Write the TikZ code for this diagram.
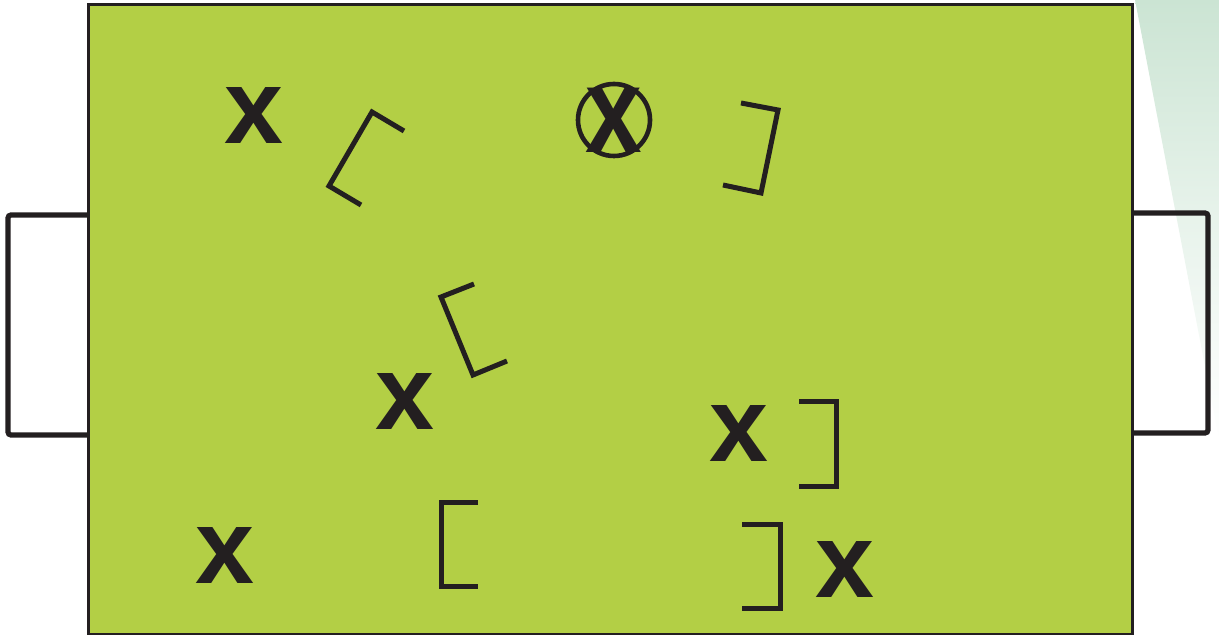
\documentclass[tikz,border=0pt]{standalone}
\usepackage{fontspec}
\setmainfont{Liberation Sans}
\definecolor{pitch}{HTML}{B3CF45}
\definecolor{ink}{HTML}{231F20}
\definecolor{paleteal}{RGB}{203,228,211}
\tikzset{
  player/.style={font=\bfseries\fontsize{53}{53}\selectfont, text=ink, inner sep=0pt},
  bracket/.style={draw=ink, line width=2.5pt},
  goalline/.style={draw=ink, line width=2.6pt, rounded corners=1.5pt}
}
\begin{document}
\begin{tikzpicture}[x=0.5pt, y=-0.5pt]
    \useasboundingbox (0,0) rectangle (1219,635);
    % faded corner behind the pitch
    \shade[top color=paleteal, bottom color=white, middle color=paleteal!45] (1135,0) -- (1219,0) -- (1219,440) -- cycle;
    % pitch
    \filldraw[fill=pitch, draw=ink, line width=1.5pt] (88,5) rectangle (1132,634);
    % goals
    \draw[goalline] (88,215) -- (8,215) -- (8,435) -- (88,435);
    \draw[goalline] (1132,213) -- (1208,213) -- (1208,433) -- (1132,433);
    % players
    \node[player] (p1) at (254,116) {x};
    \node[player] (p2) at (405,401) {x};
    \node[player] (p3) at (739,433) {x};
    \node[player] (p4) at (225,555) {x};
    \node[player] (p5) at (845,569) {x};
    \node[player] (ball) at (614,120) {\scalebox{0.96}[1.15]{x}};
    \draw[ink, line width=2.3pt] (ball.center) circle (36);
    % brackets
    \draw[bracket] (404,131) -- (372,112) -- (329,186) -- (361,205);
    \draw[bracket] (741,103) -- (778,110) -- (761,193) -- (723,185);
    \draw[bracket] (474,284) -- (441,297) -- (473,375) -- (507,361);
    \draw[bracket] (799,402) -- (836,402) -- (836,486) -- (799,486);
    \draw[bracket] (478,502) -- (441,502) -- (441,586) -- (478,586);
    \draw[bracket] (742,524) -- (780,524) -- (780,608) -- (742,608);
\end{tikzpicture}
\end{document}
